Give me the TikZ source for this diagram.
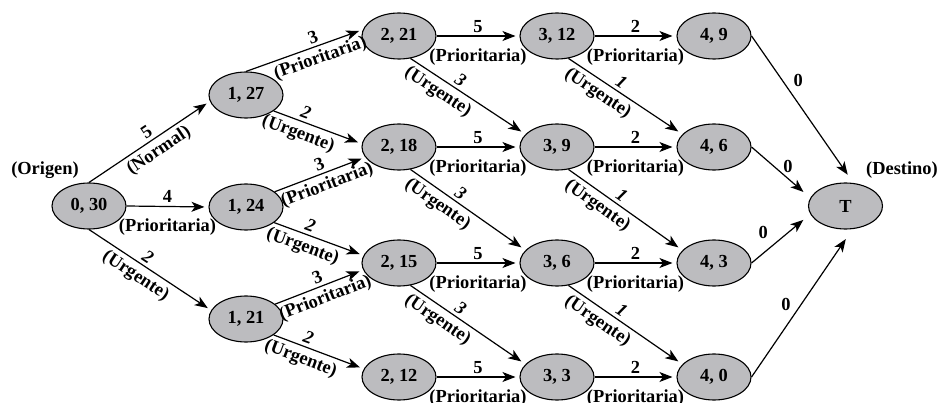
\documentclass[tikz,border=0pt]{standalone}
\usepackage{fontspec}
\setmainfont{Liberation Serif}
\usetikzlibrary{arrows.meta,shapes.geometric}
\definecolor{nodegray}{RGB}{188,188,191}
\begin{document}
\begin{tikzpicture}[x=1pt,y=-1pt,
  font=\fontsize{18.4}{20}\selectfont\bfseries,
  st/.style={ellipse, draw, line width=1.1pt, fill=nodegray, minimum width=74pt, minimum height=46pt, inner sep=0pt},
  edge/.style={draw, line width=1.2pt, -{Stealth[length=13pt,width=10pt,inset=3.5pt]}, shorten >=4pt},
  num/.style={sloped, above=2pt, inner sep=1pt},
  unum/.style={num, font=\fontsize{18.4}{20}\selectfont\bfseries\itshape},
  lab/.style={sloped, below=3pt, inner sep=1pt},
  hlab/.style={below=11pt, inner sep=1pt},
  hnum/.style={above=2pt, inner sep=1pt},
  zlab/.style={inner sep=1pt}]
\useasboundingbox (0,0) rectangle (941,403);
% nodes
\node[st] (a)  at (89,206)  {0, 30};
\node[st] (b1) at (246,95)  {1, 27};
\node[st] (b2) at (246,207) {1, 24};
\node[st] (b3) at (246,319) {1, 21};
\node[st] (c1) at (399,36)  {2, 21};
\node[st] (c2) at (399,147) {2, 18};
\node[st] (c3) at (399,263) {2, 15};
\node[st] (c4) at (399,377) {2, 12};
\node[st] (d1) at (557,36)  {3, 12};
\node[st] (d2) at (557,147) {3, 9};
\node[st] (d3) at (557,263) {3, 6};
\node[st] (d4) at (557,377) {3, 3};
\node[st] (e1) at (714,36)  {4, 9};
\node[st] (e2) at (714,147) {4, 6};
\node[st] (e3) at (714,263) {4, 3};
\node[st] (e4) at (714,377) {4, 0};
\node[st] (T)  at (845.5,206) {T};
\node[inner sep=1pt] (orig) at (45,170) {(Origen)};
\node[inner sep=1pt] (dest) at (902,170) {(Destino)};
% stage 0 -> 1
\draw[edge] (a.north) -- node[num,pos=.52]{5} node[lab,pos=.52]{(Normal)} (b1.190);
\draw[edge] (a.east) -- node[hnum]{4} node[hlab]{(Prioritaria)} (b2.west);
\draw[edge] (a.south) -- node[unum,pos=.44]{2} node[lab,pos=.44]{(Urgente)} (b3.166);
% stage 1 -> 2
\draw[edge] (b1.north) -- node[num,pos=.6]{3} node[lab,pos=.6]{(Prioritaria)} (c1.170);
\draw[edge] (b1.330) -- node[unum,pos=.33]{2} node[lab,pos=.33]{(Urgente)} (c2.175);
\draw[edge] (b2.28) -- node[num,pos=.53]{3} node[lab,pos=.53]{(Prioritaria)} (c2.197);
\draw[edge] (b2.331) -- node[unum,pos=.37]{2} node[lab,pos=.37]{(Urgente)} (c3.168);
\draw[edge] (b3.27) -- node[num,pos=.52]{3} node[lab,pos=.52]{(Prioritaria)} (c3.191);
\draw[edge] (b3.330) -- node[unum,pos=.35]{2} node[lab,pos=.35]{(Urgente)} (c4.167);
% stage 2 -> 3
\draw[edge] (c1.east) -- node[hnum]{5} node[hlab]{(Prioritaria)} (d1.west);
\draw[edge] (c2.east) -- node[hnum]{5} node[hlab]{(Prioritaria)} (d2.west);
\draw[edge] (c3.east) -- node[hnum]{5} node[hlab]{(Prioritaria)} (d3.west);
\draw[edge] (c4.east) -- node[hnum]{5} node[hlab]{(Prioritaria)} (d4.west);
\draw[edge,shorten >=5pt] (c1.297) -- node[unum,pos=.39]{3} node[lab,pos=.3]{(Urgente)} (d2.158);
\draw[edge,shorten >=5pt] (c2.297) -- node[unum,pos=.39]{3} node[lab,pos=.3]{(Urgente)} (d3.158);
\draw[edge,shorten >=5pt] (c3.297) -- node[unum,pos=.39]{3} node[lab,pos=.3]{(Urgente)} (d4.158);
% stage 3 -> 4
\draw[edge] (d1.east) -- node[hnum]{2} node[hlab]{(Prioritaria)} (e1.west);
\draw[edge] (d2.east) -- node[hnum]{2} node[hlab]{(Prioritaria)} (e2.west);
\draw[edge] (d3.east) -- node[hnum]{2} node[hlab]{(Prioritaria)} (e3.west);
\draw[edge] (d4.east) -- node[hnum]{2} node[hlab]{(Prioritaria)} (e4.west);
\draw[edge,shorten >=5pt] (d1.297) -- node[unum,pos=.42]{1} node[lab,pos=.32]{(Urgente)} (e2.158);
\draw[edge,shorten >=5pt] (d2.297) -- node[unum,pos=.42]{1} node[lab,pos=.32]{(Urgente)} (e3.158);
\draw[edge,shorten >=5pt] (d3.297) -- node[unum,pos=.42]{1} node[lab,pos=.32]{(Urgente)} (e4.158);
% stage 4 -> T
\draw[edge,shorten >=10pt] (e1.east) -- node[zlab,pos=.3,right=10pt]{0} (T.71);
\draw[edge,shorten >=9pt] (e2.east) -- node[zlab,pos=.62,above=4pt]{0} (T.167);
\draw[edge,shorten >=9pt] (e3.east) -- node[zlab,pos=.2,above=13pt]{0} (T.193);
\draw[edge,shorten >=12pt] (e4.east) -- node[zlab,pos=.49,left=9pt]{0} (T.287);
\end{tikzpicture}
\end{document}
